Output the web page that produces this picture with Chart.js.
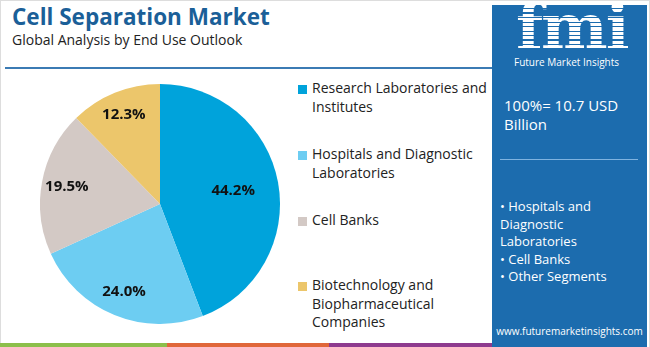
<!DOCTYPE html>
<html><head><meta charset="utf-8">
<script src="https://cdn.jsdelivr.net/npm/chart.js@4.4.0/dist/chart.umd.min.js"></script>
<style>
html,body{margin:0;padding:0;}
body{width:650px;height:347px;position:relative;overflow:hidden;background:#fff;font-family:"Open Sans",sans-serif;}
#frame{position:absolute;left:0;top:0;width:648px;height:347px;border-left:1px solid #ddd;border-top:1px solid #ddd;border-right:1px solid #ddd;}
#title{position:absolute;left:12px;top:1px;font-size:22.5px;font-weight:bold;color:#1b5f98;font-family:"Open Sans",sans-serif;}
#sub{position:absolute;left:12px;top:30px;font-size:14px;color:#222;}
#rule{position:absolute;left:5px;top:67px;width:487px;height:2px;background:#3b7bb4;}
#pie{position:absolute;left:40px;top:84px;width:240px;height:240px;}
#legend{position:absolute;left:298px;top:0;width:195px;}
.li{position:absolute;left:0;width:195px;}
.sw{position:absolute;left:0;top:6px;width:9px;height:9px;}
.lt{position:absolute;left:14px;top:0;font-size:14px;line-height:18.5px;color:#222;white-space:nowrap;}
#panel{position:absolute;left:492px;top:5px;width:155px;height:342px;background:#1c6cae;color:#fff;}
#logo{position:absolute;left:24px;top:-9px;font-family:"DejaVu Serif",serif;font-weight:bold;font-size:63px;line-height:63px;letter-spacing:-2px;background:repeating-linear-gradient(to bottom,#fff 0 3px,rgba(255,255,255,0) 3px 4.5px);-webkit-background-clip:text;background-clip:text;color:transparent;}
#fmitxt{position:absolute;left:22px;top:50px;font-size:10px;color:#fff;white-space:nowrap;}
#total{position:absolute;left:12px;top:91px;font-size:15px;line-height:19px;}
#div{position:absolute;left:8px;top:154px;width:138px;height:1px;background:#7fb3e0;}
#segs{position:absolute;left:8px;top:193px;font-size:13px;line-height:17.5px;}
#url{position:absolute;left:0;width:155px;text-align:center;top:319px;font-size:10px;}
.strip{position:absolute;top:343px;height:4px;}
</style></head>
<body>
<div id="frame"></div>
<div id="title">Cell Separation Market</div>
<div id="sub">Global Analysis by End Use Outlook</div>
<div id="rule"></div>
<div id="pie"><canvas id="c"></canvas></div>
<div id="legend"></div>
<div id="panel">
  <div id="logo">fmi</div>
  <div id="fmitxt">Future Market Insights</div>
  <div id="total">100%= 10.7 USD<br>Billion</div>
  <div id="div"></div>
  <div id="segs">• Hospitals and<br>Diagnostic<br>Laboratories<br>• Cell Banks<br>• Other Segments</div>
  <div id="url">www.futuremarketinsights.com</div>
</div>
<div class="strip" style="left:0;width:167px;background:#8cbf4b"></div>
<div class="strip" style="left:167px;width:162px;background:#e0673a"></div>
<div class="strip" style="left:329px;width:163px;background:#8e3a8e"></div>
<script>
const categories = [
  ["Research Laboratories and","Institutes"],
  ["Hospitals and Diagnostic","Laboratories"],
  ["Cell Banks"],
  ["Biotechnology and","Biopharmaceutical","Companies"]
];
const shares = [44.2, 24.0, 19.5, 12.3];
const valueLabels = ["44.2%","24.0%","19.5%","12.3%"];
const colors = ["#00a3db","#6dcdf2","#d3c9c5","#ecc66b"];
const labelRadius = [0.62, 0.79, 0.79, 0.8];
const legendTops = [79, 145, 211, 276];

const lg = document.getElementById('legend');
categories.forEach((lines,i)=>{
  const d=document.createElement('div'); d.className='li'; d.style.top=legendTops[i]+'px';
  const s=document.createElement('div'); s.className='sw'; s.style.background=colors[i];
  const t=document.createElement('div'); t.className='lt'; t.innerHTML=lines.join('<br>');
  d.appendChild(s); d.appendChild(t); lg.appendChild(d);
});

const labelPlugin = {
  id:'sliceLabels',
  afterDatasetsDraw(chart){
    const ctx=chart.ctx; const meta=chart.getDatasetMeta(0);
    ctx.save();
    ctx.font='bold 15px "Open Sans", sans-serif';
    ctx.fillStyle='#111'; ctx.textAlign='center'; ctx.textBaseline='middle';
    meta.data.forEach((arc,i)=>{
      const p=arc.getProps(['x','y','startAngle','endAngle','outerRadius'],true);
      const a=(p.startAngle+p.endAngle)/2; const r=p.outerRadius*labelRadius[i];
      ctx.fillText(valueLabels[i], p.x+Math.cos(a)*r, p.y+Math.sin(a)*r);
    });
    ctx.restore();
  }
};

new Chart(document.getElementById('c'),{
  type:'pie',
  data:{labels:categories.map(l=>l.join(' ')),datasets:[{data:shares,backgroundColor:colors,borderWidth:0}]},
  options:{responsive:true,maintainAspectRatio:false,animation:false,
    layout:{padding:0},
    plugins:{legend:{display:false},tooltip:{enabled:false}}},
  plugins:[labelPlugin]
});
</script>
</body></html>
